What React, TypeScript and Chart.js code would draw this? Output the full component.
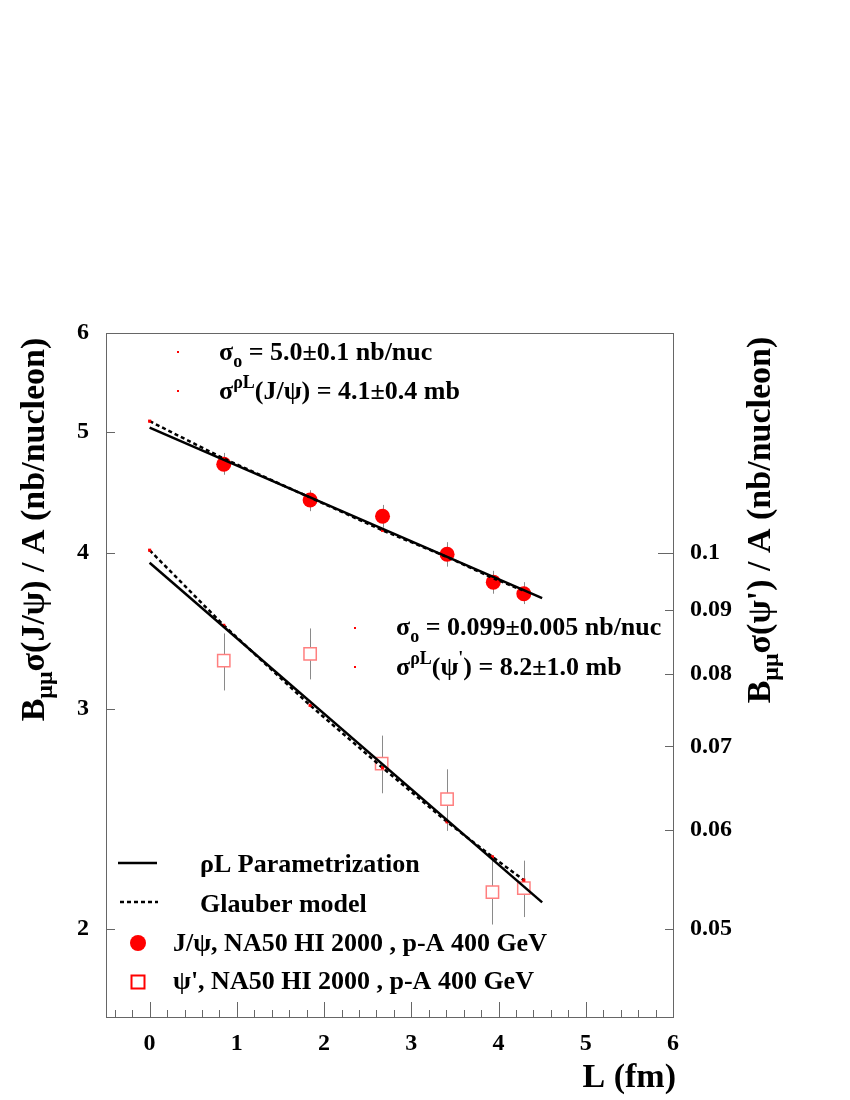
import React, { useEffect, useRef } from "react";
import { Chart, registerables } from "chart.js";
Chart.register(...registerables);

const FONT = '"Liberation Serif", "Times New Roman", serif';

// ---- data ----
const jpsiL = [0.85, 1.84, 2.67, 3.41, 3.94, 4.29];
const jpsiVal = [4.71, 4.41, 4.28, 3.99, 3.79, 3.71];
const jpsiLo = [4.62, 4.32, 4.19, 3.9, 3.71, 3.64];
const jpsiHi = [4.81, 4.49, 4.37, 4.08, 3.87, 3.79];

const psipL = [0.85, 1.84, 2.66, 3.41, 3.93, 4.29];
const psipVal = [0.082, 0.083, 0.0678, 0.0635, 0.0535, 0.0539];
const psipLo = [0.0776, 0.0792, 0.0642, 0.0599, 0.0504, 0.0511];
const psipHi = [0.0862, 0.087, 0.0714, 0.0671, 0.0573, 0.0567];

const glauberL = [0, 0.85, 1.84, 2.67, 3.41, 3.93, 4.29];
const glauberJpsi = [5.1, 4.76, 4.43, 4.17, 3.97, 3.82, 3.73];
const glauberPsip = [0.1005, 0.0875, 0.0755, 0.0673, 0.0609, 0.0571, 0.0547];

const rhoLL = [0, 4.5];
const rhoLJpsi = [5.04, 3.68];
const rhoLPsip = [0.0982, 0.0525];

const xTicks = [0, 1, 2, 3, 4, 5, 6];
const yTicks = [2, 3, 4, 5, 6];
const y2Ticks = [0.05, 0.06, 0.07, 0.08, 0.09, 0.1];
const y2TickLabels = ["0.05", "0.06", "0.07", "0.08", "0.09", "0.1"];

const pts = (xs: number[], ys: number[]) => xs.map((x, i) => ({ x, y: ys[i] }));

type Seg = { t: string; s: number; dy?: number };
function segsWidth(ctx: CanvasRenderingContext2D, segs: Seg[]) {
  let w = 0;
  for (const g of segs) {
    ctx.font = `bold ${g.s}px ${FONT}`;
    w += ctx.measureText(g.t).width;
  }
  return w;
}
function drawSegs(ctx: CanvasRenderingContext2D, x: number, y: number, segs: Seg[]) {
  let cx = x;
  ctx.textAlign = "left";
  ctx.textBaseline = "alphabetic";
  for (const g of segs) {
    ctx.font = `bold ${g.s}px ${FONT}`;
    ctx.fillText(g.t, cx, y + (g.dy || 0));
    cx += ctx.measureText(g.t).width;
  }
}

const decor = {
  id: "decor",
  beforeDatasetsDraw(chart: any) {
    const ctx = chart.ctx as CanvasRenderingContext2D;
    const { x, y, y2 } = chart.scales;
    ctx.save();
    ctx.strokeStyle = "#8a8a8a";
    ctx.lineWidth = 1;
    jpsiL.forEach((l, i) => {
      const px = Math.round(x.getPixelForValue(l)) + 0.5;
      ctx.beginPath();
      ctx.moveTo(px, y.getPixelForValue(jpsiLo[i]));
      ctx.lineTo(px, y.getPixelForValue(jpsiHi[i]));
      ctx.stroke();
    });
    psipL.forEach((l, i) => {
      const px = Math.round(x.getPixelForValue(l)) + 0.5;
      ctx.beginPath();
      ctx.moveTo(px, y2.getPixelForValue(psipLo[i]));
      ctx.lineTo(px, y2.getPixelForValue(psipHi[i]));
      ctx.stroke();
    });
    ctx.restore();
  },
  afterDraw(chart: any) {
    const ctx = chart.ctx as CanvasRenderingContext2D;
    const { x, y, y2 } = chart.scales;
    const a = chart.chartArea;
    ctx.save();
    // frame
    ctx.strokeStyle = "#666";
    ctx.lineWidth = 1;
    ctx.strokeRect(Math.round(a.left) + 0.5, Math.round(a.top) + 0.5, Math.round(a.right - a.left), Math.round(a.bottom - a.top));
    // inner ticks
    ctx.beginPath();
    for (let k = -2; k <= 30; k++) {
      const v = k / 5;
      const px = Math.round(x.getPixelForValue(v)) + 0.5;
      const len = k % 5 === 0 ? 15 : 7;
      ctx.moveTo(px, a.bottom);
      ctx.lineTo(px, a.bottom - len);
    }
    yTicks.forEach((v) => {
      const py = Math.round(y.getPixelForValue(v)) + 0.5;
      ctx.moveTo(a.left, py);
      ctx.lineTo(a.left + 9, py);
    });
    y2Ticks.forEach((v, i) => {
      const py = Math.round(y2.getPixelForValue(v)) + 0.5;
      const len = i === y2Ticks.length - 1 ? 15 : 8;
      ctx.moveTo(a.right, py);
      ctx.lineTo(a.right - len, py);
    });
    ctx.stroke();

    ctx.fillStyle = "#000";
    // annotations
    const redDot = (px: number, py: number) => {
      ctx.fillStyle = "#ff0000";
      ctx.fillRect(px - 1, py - 1, 2, 2);
      ctx.fillStyle = "#000";
    };
    redDot(178, 352);
    redDot(178, 391);
    redDot(355, 628);
    redDot(355, 667);
    drawSegs(ctx, 219, 360, [
      { t: "σ", s: 26 },
      { t: "o", s: 18, dy: 7 },
      { t: " = 5.0±0.1 nb/nuc", s: 26 },
    ]);
    drawSegs(ctx, 219, 399, [
      { t: "σ", s: 26 },
      { t: "ρL", s: 18, dy: -11 },
      { t: "(J/ψ) = 4.1±0.4 mb", s: 26 },
    ]);
    drawSegs(ctx, 396, 635, [
      { t: "σ", s: 26 },
      { t: "o", s: 18, dy: 7 },
      { t: " = 0.099±0.005 nb/nuc", s: 26 },
    ]);
    drawSegs(ctx, 396, 675, [
      { t: "σ", s: 26 },
      { t: "ρL", s: 18, dy: -11 },
      { t: "(ψ", s: 26 },
      { t: "'", s: 18, dy: -11 },
      { t: ") = 8.2±1.0 mb", s: 26 },
    ]);

    // legend
    ctx.strokeStyle = "#000";
    ctx.lineWidth = 2.5;
    ctx.beginPath();
    ctx.moveTo(118, 863);
    ctx.lineTo(157, 863);
    ctx.stroke();
    ctx.setLineDash([4, 3]);
    ctx.beginPath();
    ctx.moveTo(120, 902);
    ctx.lineTo(158, 902);
    ctx.stroke();
    ctx.setLineDash([]);
    ctx.fillStyle = "#ff0000";
    ctx.beginPath();
    ctx.arc(138, 943, 8, 0, Math.PI * 2);
    ctx.fill();
    ctx.strokeStyle = "#ff0000";
    ctx.lineWidth = 2;
    ctx.strokeRect(131.5, 975.5, 13, 13);
    ctx.fillStyle = "#000";
    drawSegs(ctx, 200, 872, [{ t: "ρL Parametrization", s: 26 }]);
    drawSegs(ctx, 200, 912, [{ t: "Glauber model", s: 26 }]);
    drawSegs(ctx, 173, 951, [{ t: "J/ψ, NA50 HI 2000 , p-A 400 GeV", s: 26 }]);
    drawSegs(ctx, 173, 989, [{ t: "ψ', NA50 HI 2000 , p-A 400 GeV", s: 26 }]);

    // axis titles
    const leftTitle: Seg[] = [
      { t: "B", s: 34 },
      { t: "μμ", s: 24, dy: 8 },
      { t: "σ(J/ψ) / A (nb/nucleon)", s: 34 },
    ];
    ctx.save();
    ctx.translate(44, 725);
    ctx.rotate(-Math.PI / 2);
    const wl = segsWidth(ctx, leftTitle);
    drawSegs(ctx, (391 - wl) / 2, 0, leftTitle);
    ctx.restore();

    const rightTitle: Seg[] = [
      { t: "B", s: 34 },
      { t: "μμ", s: 24, dy: 8 },
      { t: "σ(ψ') / A (nb/nucleon)", s: 34 },
    ];
    ctx.save();
    ctx.translate(770, 706);
    ctx.rotate(-Math.PI / 2);
    const wr = segsWidth(ctx, rightTitle);
    drawSegs(ctx, (372 - wr) / 2, 0, rightTitle);
    ctx.restore();

    ctx.font = `bold 34px ${FONT}`;
    ctx.textAlign = "right";
    ctx.textBaseline = "alphabetic";
    ctx.fillText("L (fm)", 676, 1087);
    ctx.restore();
  },
};

export default function App() {
  const ref = useRef<HTMLCanvasElement>(null);
  useEffect(() => {
    if (!ref.current) return;
    const tickFont = { family: FONT, size: 24, weight: "bold" as const };
    const chart = new Chart(ref.current, {
      type: "scatter",
      data: {
        datasets: [
          {
            label: "rhoL J/psi",
            data: pts(rhoLL, rhoLJpsi),
            yAxisID: "y",
            showLine: true,
            borderColor: "#000",
            borderWidth: 2.5,
            pointRadius: 0,
            order: 0,
          },
          {
            label: "rhoL psi'",
            data: pts(rhoLL, rhoLPsip),
            yAxisID: "y2",
            showLine: true,
            borderColor: "#000",
            borderWidth: 2.5,
            pointRadius: 0,
            order: 0,
          },
          {
            label: "Glauber J/psi",
            data: pts(glauberL, glauberJpsi),
            yAxisID: "y",
            showLine: true,
            borderColor: "#000",
            borderWidth: 2.5,
            borderDash: [4, 3],
            pointStyle: "rect",
            pointRadius: 2.2,
            pointBackgroundColor: "#ff0000",
            pointBorderWidth: 0,
            order: 1,
          },
          {
            label: "Glauber psi'",
            data: pts(glauberL, glauberPsip),
            yAxisID: "y2",
            showLine: true,
            borderColor: "#000",
            borderWidth: 2.5,
            borderDash: [4, 3],
            pointStyle: "rect",
            pointRadius: 2.2,
            pointBackgroundColor: "#ff0000",
            pointBorderWidth: 0,
            order: 1,
          },
          {
            label: "J/psi data",
            data: pts(jpsiL, jpsiVal),
            yAxisID: "y",
            pointRadius: 7.5,
            pointBackgroundColor: "#ff0000",
            pointBorderWidth: 0,
            order: 2,
          },
          {
            label: "psi' data",
            data: pts(psipL, psipVal),
            yAxisID: "y2",
            pointStyle: "rect",
            pointRadius: 8.7,
            pointBackgroundColor: "#ffffff",
            pointBorderColor: "#ff7f7f",
            pointBorderWidth: 1.5,
            order: 2,
          },
        ],
      },
      options: {
        animation: false,
        responsive: false,
        devicePixelRatio: 1,
        layout: { padding: { top: 333, left: 0, right: 0, bottom: 0 } },
        plugins: { legend: { display: false }, tooltip: { enabled: false } },
        scales: {
          x: {
            type: "linear",
            min: -0.5,
            max: 6,
            afterBuildTicks: (s: any) => {
              s.ticks = xTicks.map((v) => ({ value: v }));
            },
            afterFit: (s: any) => {
              s.height = 83;
            },
            ticks: {
              font: tickFont,
              color: "#000",
              padding: 12,
              maxRotation: 0,
              autoSkip: false,
              callback: (v: any) => String(v),
            },
            grid: { display: false, drawTicks: false },
            border: { display: false },
          },
          y: {
            type: "logarithmic",
            position: "left",
            min: 1.7,
            max: 6,
            afterBuildTicks: (s: any) => {
              s.ticks = yTicks.map((v) => ({ value: v }));
            },
            afterFit: (s: any) => {
              s.width = 106;
            },
            ticks: {
              font: tickFont,
              color: "#000",
              padding: 17,
              autoSkip: false,
              callback: (v: any) => String(v),
            },
            grid: { display: false, drawTicks: false },
            border: { display: false },
          },
          y2: {
            type: "logarithmic",
            position: "right",
            min: 1.7 / 40,
            max: 6 / 40,
            afterBuildTicks: (s: any) => {
              s.ticks = y2Ticks.map((v) => ({ value: v }));
            },
            afterFit: (s: any) => {
              s.width = 177;
            },
            ticks: {
              font: tickFont,
              color: "#000",
              padding: 17,
              autoSkip: false,
              callback: (v: any) => {
                const i = y2Ticks.findIndex((t) => Math.abs(t - Number(v)) < 1e-6);
                return i >= 0 ? y2TickLabels[i] : "";
              },
            },
            grid: { display: false, drawTicks: false },
            border: { display: false },
          },
        },
      },
      plugins: [decor],
    } as any);
    return () => chart.destroy();
  }, []);
  return (
    <div style={{ position: "absolute", left: 0, top: 0, width: 850, height: 1100, background: "#fff" }}>
      <canvas ref={ref} width={850} height={1100} style={{ width: 850, height: 1100, display: "block" }} />
    </div>
  );
}
